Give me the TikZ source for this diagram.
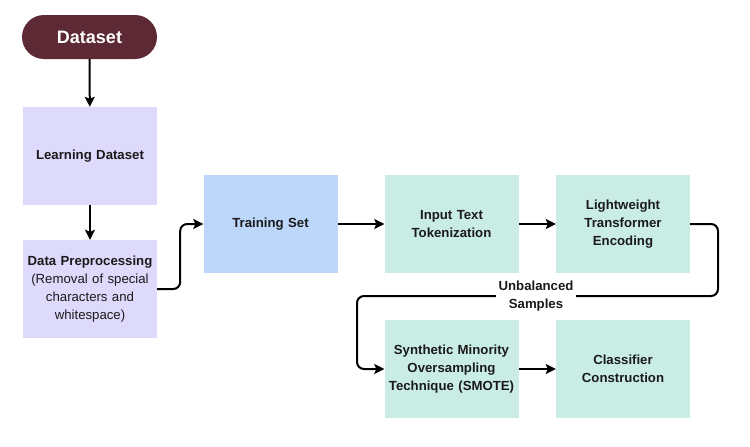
\documentclass[tikz,border=0pt]{standalone}
\usepackage{fontspec}
\setmainfont{Liberation Sans}
\usetikzlibrary{arrows.meta}

\definecolor{maroon}{HTML}{5C2934}
\definecolor{lavender}{HTML}{DEDAFC}
\definecolor{skyblue}{HTML}{BDD7FB}
\definecolor{mint}{HTML}{C9EDE4}
\definecolor{ink}{HTML}{1A1A1A}

\tikzset{
  stagebox/.style={minimum width=134pt,minimum height=98pt,text width=130pt,
    align=center,text=ink,font=\fontsize{13.2}{18}\selectfont\bfseries,inner sep=0pt},
  flow/.style={-{Stealth[length=10pt,width=10pt,inset=2pt]},line width=2pt,rounded corners=7pt}
}

\begin{document}
\begin{tikzpicture}[x=1pt,y=-1pt]
  \useasboundingbox (0,0) rectangle (750,447);

  % start
  \node[fill=maroon,text=white,rounded corners=22pt,minimum width=135pt,minimum height=44pt,
    font=\fontsize{18}{20}\selectfont\bfseries] (dataset) at (89.5,37) {Dataset};

  % preparation
  \node[stagebox,fill=lavender] (learning) at (90,156) {Learning Dataset};
  \node[stagebox,fill=lavender] (preproc) at (90,289)
    {Data Preprocessing\\\mdseries(Removal of special\\characters and\\whitespace)};

  % model pipeline
  \node[stagebox,fill=skyblue] (training) at (270.5,224) {Training Set};
  \node[stagebox,fill=mint] (tokenize) at (451.5,224) {Input Text\\Tokenization};
  \node[stagebox,fill=mint] (encode) at (623,224) {Lightweight\\Transformer\\Encoding};
  \node[stagebox,fill=mint] (smote) at (451.5,369) {Synthetic Minority\\Oversampling\\Technique (SMOTE)};
  \node[stagebox,fill=mint] (classify) at (623,369) {Classifier\\Construction};

  \coordinate (loopR) at (718,296);
  \coordinate (loopL) at (357,296);

  \draw[flow] (dataset) -- (learning);
  \draw[flow] (learning) -- (preproc);
  \draw[flow] (preproc.east) -- ++(23,0) |- (training.west);
  \draw[flow] (training) -- (tokenize);
  \draw[flow] (tokenize) -- (encode);
  \draw[flow] (encode.east) -| (loopR) -- (loopL) |- (smote.west);
  \draw[flow] (smote) -- (classify);

  \node[fill=white,align=center,inner sep=3pt,text=ink,font=\fontsize{13.2}{18}\selectfont\bfseries]
    (unbalanced) at (536,296) {Unbalanced\\Samples};
\end{tikzpicture}
\end{document}
